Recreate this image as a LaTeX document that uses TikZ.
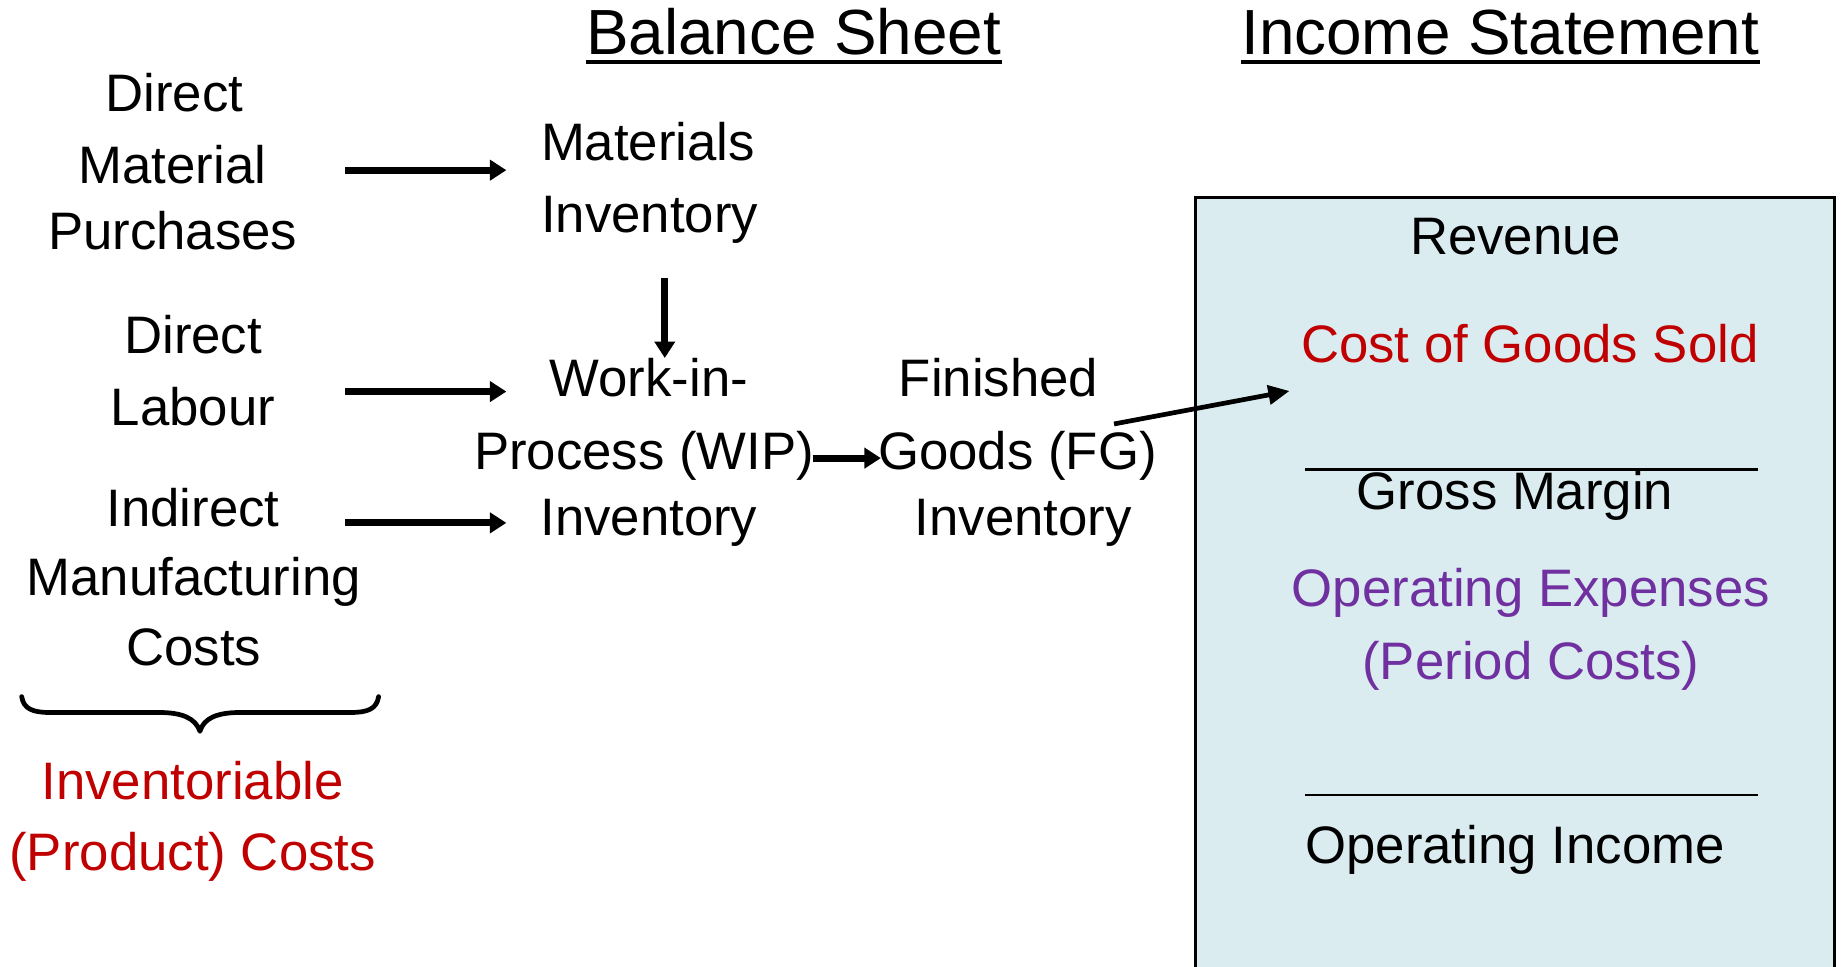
\documentclass[tikz,border=0pt]{standalone}
\usepackage{fontspec}
\setmainfont{Liberation Sans}
\usetikzlibrary{arrows.meta}
\definecolor{boxfill}{RGB}{218,236,240}
\definecolor{cogsred}{RGB}{192,0,0}
\definecolor{oppurple}{RGB}{112,48,160}
\tikzset{
  txt/.style={inner sep=0pt, anchor=base, font=\fontsize{22.4}{26}\selectfont},
  ttl/.style={inner sep=0pt, anchor=base, font=\fontsize{27.1}{30}\selectfont},
  flow/.style={line width=3pt, -{Triangle[length=7pt,width=8.5pt]}},
  slant/.style={line width=2pt, -{Triangle[length=9pt,width=8pt]}},
  rule/.style={line width=1.2pt},
  brace/.style={line width=2pt, line cap=round, line join=round},
}
\begin{document}
\begin{tikzpicture}[x=0.5pt,y=-0.5pt]
\useasboundingbox (0,0) rectangle (1565,820.3);

% income statement box (open at the bottom edge)
\fill[boxfill] (1015,168) rectangle (1558,840);
\draw[line width=1.2pt] (1015,840) -- (1015,168) -- (1558,168) -- (1558,840);

% titles
\node[ttl] (bs) at (674,46) {Balance Sheet};
\node[ttl] (is) at (1274,46) {Income Statement};
\draw[line width=2pt] ([yshift=-3.3pt]bs.base west) -- ([yshift=-3.3pt]bs.base east);
\draw[line width=2pt] ([yshift=-3.3pt]is.base west) -- ([yshift=-3.3pt]is.base east);

% left column
\node[txt] (dm1) at (148,95) {Direct};
\node[txt] (dm2) at (146.5,156) {Material};
\node[txt] (dm3) at (146.7,212) {Purchases};
\node[txt] (dl1) at (164,300) {Direct};
\node[txt] (dl2) at (164,361) {Labour};
\node[txt] (im1) at (164,447) {Indirect};
\node[txt] (im2) at (164.5,506) {Manufacturing};
\node[txt] (im3) at (164.5,565) {Costs};

% brace
\draw[brace] (18.4,591.5) .. controls (20,602) and (28,605) .. (42,605)
  -- (135,605) .. controls (155,605) and (166,610) .. (169.8,621)
  .. controls (173,610) and (184,605) .. (204,605)
  -- (298,605) .. controls (312,605) and (320,602) .. (321.5,591.5);
\node[txt, text=cogsred] (pc1) at (163.5,679) {Inventoriable};
\node[txt, text=cogsred] (pc2) at (163.6,739) {(Product) Costs};

% balance sheet column
\node[txt, anchor=base west] (mi1) at (459,136) {Materials};
\node[txt, anchor=base west] (mi2) at (459,197) {Inventory};
\node[txt] (wip1) at (551,337) {Work-in-};
\node[txt] (wip2) at (547,399) {Process (WIP)};
\node[txt] (wip3) at (551,455) {Inventory};
\node[txt] (fg1) at (848,337) {Finished};
\node[txt] (fg2) at (864,399) {Goods (FG)};
\node[txt] (fg3) at (869,455) {Inventory};

% arrows
\coordinate (a1s) at (293,144.5); \coordinate (a1e) at (430,144.5);
\coordinate (a2s) at (293,332.5); \coordinate (a2e) at (430,332.5);
\coordinate (a3s) at (293,444);   \coordinate (a3e) at (430,444);
\coordinate (dns) at (564.5,236); \coordinate (dne) at (564.5,304);
\coordinate (wfs) at (690,389);   \coordinate (wfe) at (748,389);
\coordinate (fgs) at (946,360);   \coordinate (fge) at (1095,332);
\draw[flow] (a1s) -- (a1e);
\draw[flow] (a2s) -- (a2e);
\draw[flow] (a3s) -- (a3e);
\draw[flow] (dns) -- (dne);
\draw[flow] (wfs) -- (wfe);
\draw[slant] (fgs) -- (fge);

% income statement contents
\node[txt] (rev) at (1287,216) {Revenue};
\node[txt, text=cogsred] (cogs) at (1299,308) {Cost of Goods Sold};
\coordinate (r1s) at (1108,399); \coordinate (r1e) at (1493,399);
\draw[rule] (r1s) -- (r1e);
\node[txt] (gm) at (1286.5,433) {Gross Margin};
\node[txt, text=oppurple] (ox1) at (1300,515) {Operating Expenses};
\node[txt, text=oppurple] (ox2) at (1300,577) {(Period Costs)};
\coordinate (r2s) at (1108,675); \coordinate (r2e) at (1493,675);
\draw[rule] (r2s) -- (r2e);
\node[txt] (oi) at (1286.5,733) {Operating Income};
\end{tikzpicture}
\end{document}
